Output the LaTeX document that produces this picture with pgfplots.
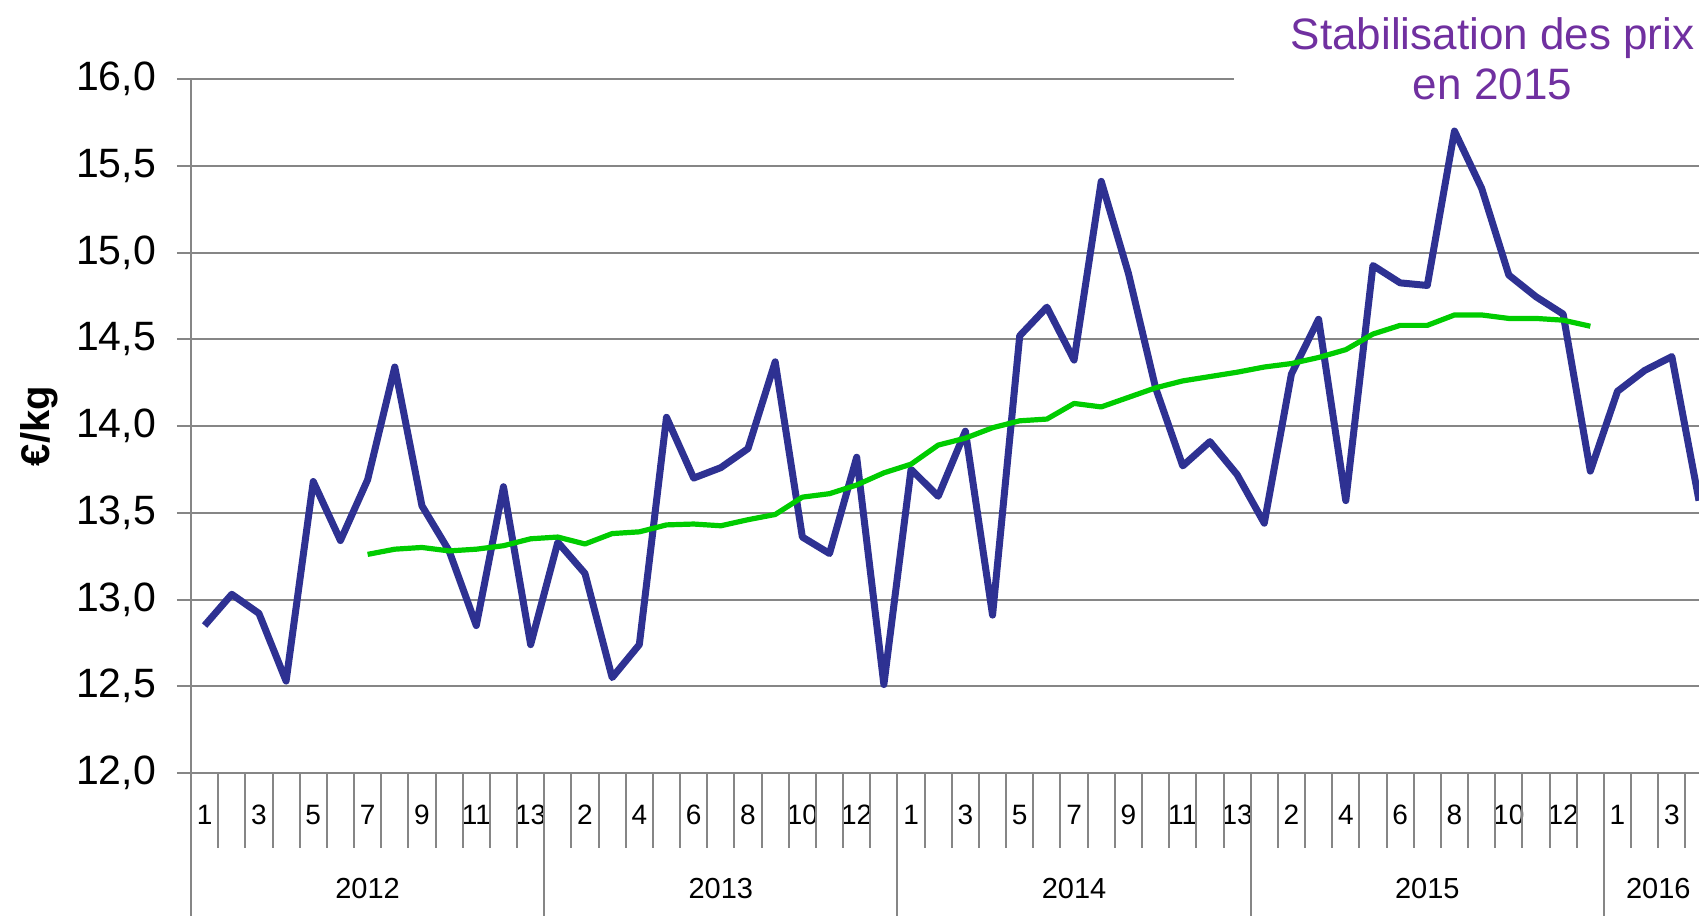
\documentclass[border=0pt]{standalone}
\usepackage{fontspec}
\setmainfont{Liberation Sans}
\usepackage{pgfplots}
\pgfplotsset{compat=1.18}
\definecolor{gridgray}{HTML}{868686}
\definecolor{navy}{HTML}{2E3192}
\definecolor{lgreen}{HTML}{00CC00}
\definecolor{purp}{HTML}{7030A0}
\pgfplotstableread{
i v
0 12.85
1 13.03
2 12.92
3 12.53
4 13.68
5 13.34
6 13.69
7 14.34
8 13.54
9 13.28
10 12.85
11 13.65
12 12.74
13 13.33
14 13.15
15 12.55
16 12.74
17 14.05
18 13.70
19 13.76
20 13.87
21 14.37
22 13.36
23 13.265
24 13.82
25 12.51
26 13.75
27 13.595
28 13.97
29 12.91
30 14.52
31 14.685
32 14.38
33 15.41
34 14.88
35 14.22
36 13.77
37 13.91
38 13.72
39 13.44
40 14.30
41 14.615
42 13.57
43 14.925
44 14.825
45 14.81
46 15.70
47 15.37
48 14.87
49 14.745
50 14.645
51 13.74
52 14.20
53 14.32
54 14.40
55 13.57
}\prix
\pgfplotstableread{
i v
6 13.26
7 13.29
8 13.30
9 13.28
10 13.29
11 13.31
12 13.35
13 13.36
14 13.32
15 13.38
16 13.39
17 13.43
18 13.435
19 13.425
20 13.46
21 13.49
22 13.59
23 13.61
24 13.66
25 13.73
26 13.78
27 13.89
28 13.93
29 13.99
30 14.03
31 14.04
32 14.13
33 14.11
34 14.165
35 14.22
36 14.26
37 14.285
38 14.31
39 14.34
40 14.36
41 14.395
42 14.44
43 14.53
44 14.58
45 14.58
46 14.64
47 14.64
48 14.62
49 14.62
50 14.61
51 14.575
}\moyenne
\begin{document}
\begin{tikzpicture}
\begin{axis}[
  scale only axis, width=754pt, height=347pt,
  xmin=-0.5, xmax=55, ymin=12, ymax=16,
  axis lines*=left,
  axis line style={gridgray, line width=1pt},
  clip mode=individual,
  ytick={12,12.5,13,13.5,14,14.5,15,15.5},
  yticklabels={{12,0},{12,5},{13,0},{13,5},{14,0},{14,5},{15,0},{15,5}},
  extra y ticks={16}, extra y tick labels={16{,}0},
  extra y tick style={grid=none},
  ymajorgrids, grid style={gridgray, line width=1pt},
  tick align=outside, major tick length=7pt,
  tick style={gridgray, line width=1pt},
  yticklabel style={font=\fontsize{20.5}{21}\selectfont, anchor=east, xshift=-7pt},
  xtick={0,2,...,54},
  xticklabels={1,3,5,7,9,11,13,2,4,6,8,10,12,1,3,5,7,9,11,13,2,4,6,8,10,12,1,3},
  xtick style={draw=none},
  xticklabel style={font=\fontsize{14}{14}\selectfont, anchor=center, yshift=-14pt},
]
\draw[gridgray, line width=1pt] (axis cs:-0.5,16) -- (axis cs:37.9,16);
\pgfplotsinvokeforeach{0,...,55}{\draw[gridgray, line width=1pt] (axis cs:#1-0.5,12) -- ++(0pt,-37.5pt);}
\pgfplotsinvokeforeach{-0.5,12.5,25.5,38.5,51.5}{\draw[gridgray, line width=1pt] (axis cs:#1,12) -- ++(0pt,-71.5pt);}
\node[font=\fontsize{14.5}{15}\selectfont, yshift=-58pt] at (axis cs:6,12) {2012};
\node[font=\fontsize{14.5}{15}\selectfont, yshift=-58pt] at (axis cs:19,12) {2013};
\node[font=\fontsize{14.5}{15}\selectfont, yshift=-58pt] at (axis cs:32,12) {2014};
\node[font=\fontsize{14.5}{15}\selectfont, yshift=-58pt] at (axis cs:45,12) {2015};
\node[font=\fontsize{14.5}{15}\selectfont, yshift=-58pt] at (axis cs:53.5,12) {2016};
\addplot[navy, line width=3.5pt, line join=round] table[x=i, y=v] {\prix};
\addplot[lgreen, line width=2.6pt, line join=round] table[x=i, y=v] {\moyenne};
\node[font=\fontsize{22}{27.5}\selectfont, text=purp, anchor=base, yshift=14.9pt] at (axis cs:47.4,16) {Stabilisation des prix};
\node[font=\fontsize{22}{27.5}\selectfont, text=purp, anchor=base, yshift=-10.4pt] at (axis cs:47.4,16) {en 2015};
\end{axis}
\node[rotate=90, font=\bfseries\fontsize{20}{20}\selectfont] at ([xshift=-76pt]current axis.west) {€/kg};
\pgfresetboundingbox
\useasboundingbox ([shift={(-95.5pt,-71.5pt)}]current axis.south west) rectangle ([shift={(0pt,39.5pt)}]current axis.north east);
\end{tikzpicture}
\end{document}
